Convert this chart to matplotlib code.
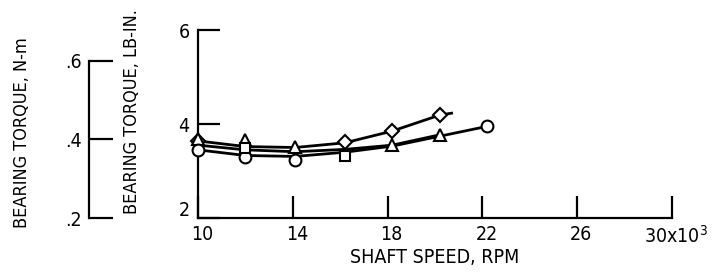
import matplotlib
matplotlib.use("Agg")
import matplotlib.pyplot as plt
import matplotlib.transforms as mtransforms

# ---- data (lb-in vs shaft speed, thousands of rpm) ----
curve_a_x = [10, 12, 14.1, 16.2, 18.2, 20.2, 20.7]
curve_a_y = [3.64, 3.52, 3.50, 3.60, 3.85, 4.19, 4.23]
curve_b_x = [10, 12, 14.1, 16.2, 18.2, 20.2]
curve_b_y = [3.55, 3.45, 3.41, 3.46, 3.55, 3.77]
curve_c_x = [10, 12, 14.1, 16.2, 18.2, 20.2, 22.2]
curve_c_y = [3.45, 3.33, 3.31, 3.40, 3.53, 3.74, 3.95]

diamond_x = [10, 16.2, 18.2, 20.2]
diamond_y = [3.64, 3.62, 3.86, 4.19]
triangle_x = [10, 12, 14.1, 18.2, 20.2]
triangle_y = [3.68, 3.66, 3.52, 3.55, 3.77]
circle_x = [10, 12, 14.1, 22.2]
circle_y = [3.45, 3.30, 3.23, 3.95]
square_x = [12, 16.2]
square_y = [3.50, 3.31]

x_ticks = [10, 14, 18, 22, 26, 30]
x_tick_labels = ["10", "14", "18", "22", "26", "30x10$^3$"]
y_ticks = [2, 4, 6]
nm_ticks = [0.2, 0.4, 0.6]
nm_tick_labels = [".2", ".4", ".6"]
LBIN_PER_NM = 8.8507

plt.rcParams["font.family"] = ["DejaVu Sans"]
plt.rcParams["font.stretch"] = "condensed"
plt.rcParams["mathtext.fontset"] = "dejavusans"

W, H = 717, 275
fig = plt.figure(figsize=(W / 100, H / 100), dpi=100)

x0, x1 = 198, 672
y_bot, y_top = 218, 30
ax = fig.add_axes([x0 / W, (H - y_bot) / H, (x1 - x0) / W, (y_bot - y_top) / H])
ax.set_xlim(10, 30)
ax.set_ylim(2, 6)
for s in ["top", "right"]:
    ax.spines[s].set_visible(False)
for s in ["left", "bottom"]:
    ax.spines[s].set_linewidth(1.6)
ax.set_xticks(x_ticks)
ax.set_xticklabels(x_tick_labels, fontsize=14)
ax.set_yticks(y_ticks)
ax.set_yticklabels([str(v) for v in y_ticks], fontsize=14)
ax.tick_params(axis="both", direction="in", length=16, width=1.6)
ax.tick_params(axis="x", pad=5)
ax.tick_params(axis="y", pad=6)
ax.set_xlabel("SHAFT SPEED, RPM", fontsize=14, labelpad=1)

# small label offsets as in the reference
dx = mtransforms.ScaledTranslation(4 / 100, 0, fig.dpi_scale_trans)
for t in ax.xaxis.get_major_ticks():
    t.label1.set_transform(t.label1.get_transform() + dx)
dy = mtransforms.ScaledTranslation(0, 9 / 100, fig.dpi_scale_trans)
lab2 = ax.yaxis.get_major_ticks()[0].label1
lab2.set_transform(lab2.get_transform() + dy)

lk = dict(color="black", lw=2, zorder=2)
ax.plot(curve_a_x, curve_a_y, **lk)
ax.plot(curve_b_x, curve_b_y, **lk)
ax.plot(curve_c_x, curve_c_y, **lk)
mk = dict(linestyle="none", mfc="white", mec="black", mew=1.5, zorder=3, clip_on=False)
ax.plot(diamond_x, diamond_y, marker="D", ms=7, **mk)
ax.plot(triangle_x, triangle_y, marker="^", ms=8, **mk)
ax.plot(circle_x, circle_y, marker="o", ms=8.5, **mk)
ax.plot(square_x, square_y, marker="s", ms=7, **mk)

# secondary N-m scale
ax2 = fig.add_axes([89 / W, (H - y_bot) / H, 0.001, (y_bot - y_top) / H])
ax2.set_ylim(2 / LBIN_PER_NM, 6 / LBIN_PER_NM)
ax2.set_xticks([])
for s in ["top", "right", "bottom"]:
    ax2.spines[s].set_visible(False)
ax2.spines["left"].set_bounds(0.2, 0.6)
ax2.spines["left"].set_linewidth(1.6)
ax2.set_yticks(nm_ticks)
ax2.set_yticklabels(nm_tick_labels, fontsize=14)
ax2.tick_params(axis="y", direction="in", length=17, width=1.6, pad=5)
ax2.patch.set_visible(False)

fig.text(22 / W, (H - 133) / H, "BEARING TORQUE, N-m", rotation=90,
         ha="center", va="center", fontsize=13)
fig.text(132 / W, (H - 112) / H, "BEARING TORQUE, LB-IN.", rotation=90,
         ha="center", va="center", fontsize=13)

fig.savefig("out.png", dpi=100)
